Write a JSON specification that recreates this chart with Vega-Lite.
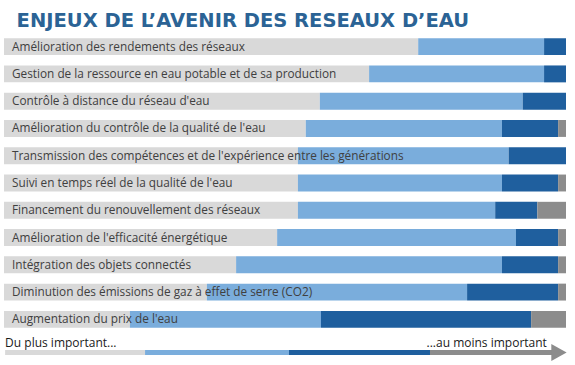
{
  "$schema": "https://vega.github.io/schema/vega-lite/v6.json",
  "background": "white",
  "padding": {"left": 2, "top": 10, "right": 0, "bottom": 0},
  "autosize": {"type": "pad"},
  "title": {
    "text": "ENJEUX DE L’AVENIR DES RESEAUX D’EAU",
    "anchor": "start",
    "dx": 14,
    "offset": 2,
    "font": "DejaVu Sans",
    "fontSize": 19.5,
    "fontWeight": "bold",
    "color": "#2b6395"
  },
  "spacing": 0,
  "config": {"view": {"stroke": null}},
  "vconcat": [
    {
      "width": 562,
      "height": 300,
      "data": {
        "values": [
          {"enjeu": "Amélioration des rendements des réseaux", "niveau": "1", "part": 73.7},
          {"enjeu": "Amélioration des rendements des réseaux", "niveau": "2", "part": 22.4},
          {"enjeu": "Amélioration des rendements des réseaux", "niveau": "3", "part": 3.9},
          {"enjeu": "Amélioration des rendements des réseaux", "niveau": "4", "part": 0},
          {"enjeu": "Gestion de la ressource en eau potable et de sa production", "niveau": "1", "part": 64.9},
          {"enjeu": "Gestion de la ressource en eau potable et de sa production", "niveau": "2", "part": 31.1},
          {"enjeu": "Gestion de la ressource en eau potable et de sa production", "niveau": "3", "part": 3.9},
          {"enjeu": "Gestion de la ressource en eau potable et de sa production", "niveau": "4", "part": 0},
          {"enjeu": "Contrôle à distance du réseau d'eau", "niveau": "1", "part": 56.2},
          {"enjeu": "Contrôle à distance du réseau d'eau", "niveau": "2", "part": 36.1},
          {"enjeu": "Contrôle à distance du réseau d'eau", "niveau": "3", "part": 7.7},
          {"enjeu": "Contrôle à distance du réseau d'eau", "niveau": "4", "part": 0},
          {"enjeu": "Amélioration du contrôle de la qualité de l'eau", "niveau": "1", "part": 53.7},
          {"enjeu": "Amélioration du contrôle de la qualité de l'eau", "niveau": "2", "part": 34.9},
          {"enjeu": "Amélioration du contrôle de la qualité de l'eau", "niveau": "3", "part": 10.0},
          {"enjeu": "Amélioration du contrôle de la qualité de l'eau", "niveau": "4", "part": 1.4},
          {"enjeu": "Transmission des compétences et de l'expérience entre les générations", "niveau": "1", "part": 52.3},
          {"enjeu": "Transmission des compétences et de l'expérience entre les générations", "niveau": "2", "part": 37.5},
          {"enjeu": "Transmission des compétences et de l'expérience entre les générations", "niveau": "3", "part": 10.2},
          {"enjeu": "Transmission des compétences et de l'expérience entre les générations", "niveau": "4", "part": 0},
          {"enjeu": "Suivi en temps réel de la qualité de l'eau", "niveau": "1", "part": 52.3},
          {"enjeu": "Suivi en temps réel de la qualité de l'eau", "niveau": "2", "part": 36.3},
          {"enjeu": "Suivi en temps réel de la qualité de l'eau", "niveau": "3", "part": 10.0},
          {"enjeu": "Suivi en temps réel de la qualité de l'eau", "niveau": "4", "part": 1.4},
          {"enjeu": "Financement du renouvellement des réseaux", "niveau": "1", "part": 52.3},
          {"enjeu": "Financement du renouvellement des réseaux", "niveau": "2", "part": 35.1},
          {"enjeu": "Financement du renouvellement des réseaux", "niveau": "3", "part": 7.5},
          {"enjeu": "Financement du renouvellement des réseaux", "niveau": "4", "part": 5.1},
          {"enjeu": "Amélioration de l'efficacité énergétique", "niveau": "1", "part": 48.6},
          {"enjeu": "Amélioration de l'efficacité énergétique", "niveau": "2", "part": 42.5},
          {"enjeu": "Amélioration de l'efficacité énergétique", "niveau": "3", "part": 7.5},
          {"enjeu": "Amélioration de l'efficacité énergétique", "niveau": "4", "part": 1.4},
          {"enjeu": "Intégration des objets connectés", "niveau": "1", "part": 41.3},
          {"enjeu": "Intégration des objets connectés", "niveau": "2", "part": 47.3},
          {"enjeu": "Intégration des objets connectés", "niveau": "3", "part": 10.0},
          {"enjeu": "Intégration des objets connectés", "niveau": "4", "part": 1.4},
          {"enjeu": "Diminution des émissions de gaz à effet de serre (CO2)", "niveau": "1", "part": 36.1},
          {"enjeu": "Diminution des émissions de gaz à effet de serre (CO2)", "niveau": "2", "part": 46.3},
          {"enjeu": "Diminution des émissions de gaz à effet de serre (CO2)", "niveau": "3", "part": 16.2},
          {"enjeu": "Diminution des émissions de gaz à effet de serre (CO2)", "niveau": "4", "part": 1.4},
          {"enjeu": "Augmentation du prix de l'eau", "niveau": "1", "part": 22.4},
          {"enjeu": "Augmentation du prix de l'eau", "niveau": "2", "part": 34.0},
          {"enjeu": "Augmentation du prix de l'eau", "niveau": "3", "part": 37.4},
          {"enjeu": "Augmentation du prix de l'eau", "niveau": "4", "part": 6.2}
        ]
      },
      "encoding": {
        "y": {
          "field": "enjeu",
          "type": "nominal",
          "sort": null,
          "axis": null,
          "scale": {"paddingInner": 0.38, "paddingOuter": 0.19}
        }
      },
      "layer": [
        {
          "mark": {"type": "bar", "cornerRadius": 0},
          "encoding": {
            "x": {
              "field": "part",
              "type": "quantitative",
              "stack": "normalize",
              "axis": null,
              "scale": {"domain": [0, 1], "nice": false}
            },
            "color": {
              "field": "niveau",
              "type": "nominal",
              "legend": null,
              "scale": {
                "domain": ["1", "2", "3", "4"],
                "range": ["#d9d9d9", "#7aaddc", "#1f5f9e", "#8c8c8c"]
              }
            },
            "order": {"field": "niveau", "type": "ordinal"}
          }
        },
        {
          "transform": [{"filter": "datum.niveau === '1'"}],
          "mark": {
            "type": "text",
            "align": "left",
            "baseline": "middle",
            "dx": 8,
            "font": "Open Sans",
            "fontSize": 11.8,
            "color": "#404040"
          },
          "encoding": {
            "x": {"datum": 0, "type": "quantitative"},
            "text": {"field": "enjeu"}
          }
        }
      ]
    },
    {
      "width": 562,
      "height": 28,
      "layer": [
        {
          "data": {
            "values": [
              {"niveau": "1", "debut": 0.2, "fin": 25.1},
              {"niveau": "2", "debut": 25.1, "fin": 50.7},
              {"niveau": "3", "debut": 50.7, "fin": 75.8},
              {"niveau": "4", "debut": 75.8, "fin": 97.8}
            ]
          },
          "mark": {"type": "rule", "strokeWidth": 5, "strokeCap": "butt"},
          "encoding": {
            "x": {"field": "debut", "type": "quantitative", "axis": null, "scale": {"domain": [0, 100], "nice": false}},
            "x2": {"field": "fin"},
            "y": {"datum": 0.3, "type": "quantitative", "axis": null, "scale": {"domain": [0, 1], "nice": false}},
            "color": {
              "field": "niveau",
              "type": "nominal",
              "legend": null,
              "scale": {
                "domain": ["1", "2", "3", "4"],
                "range": ["#d9d9d9", "#7aaddc", "#1f5f9e", "#8c8c8c"]
              }
            }
          }
        },
        {
          "data": {"values": [{"fleche": 98.75}]},
          "mark": {
            "type": "point",
            "shape": "M-0.9,-1L0.9,0L-0.9,1Z",
            "filled": true,
            "opacity": 1,
            "size": 289,
            "color": "#8c8c8c"
          },
          "encoding": {
            "x": {"field": "fleche", "type": "quantitative"},
            "y": {"datum": 0.3, "type": "quantitative"}
          }
        },
        {
          "data": {"values": [{"libelle": "Du plus important...", "pos": 0.2}]},
          "mark": {
            "type": "text",
            "align": "left",
            "baseline": "alphabetic",
            "font": "Open Sans",
            "fontSize": 12,
            "color": "#1a1a1a"
          },
          "encoding": {
            "x": {"field": "pos", "type": "quantitative"},
            "y": {"datum": 0.5, "type": "quantitative"},
            "text": {"field": "libelle"}
          }
        },
        {
          "data": {"values": [{"libelle": "...au moins important", "pos": 96.6}]},
          "mark": {
            "type": "text",
            "align": "right",
            "baseline": "alphabetic",
            "font": "Open Sans",
            "fontSize": 12,
            "color": "#1a1a1a"
          },
          "encoding": {
            "x": {"field": "pos", "type": "quantitative"},
            "y": {"datum": 0.5, "type": "quantitative"},
            "text": {"field": "libelle"}
          }
        }
      ]
    }
  ]
}
